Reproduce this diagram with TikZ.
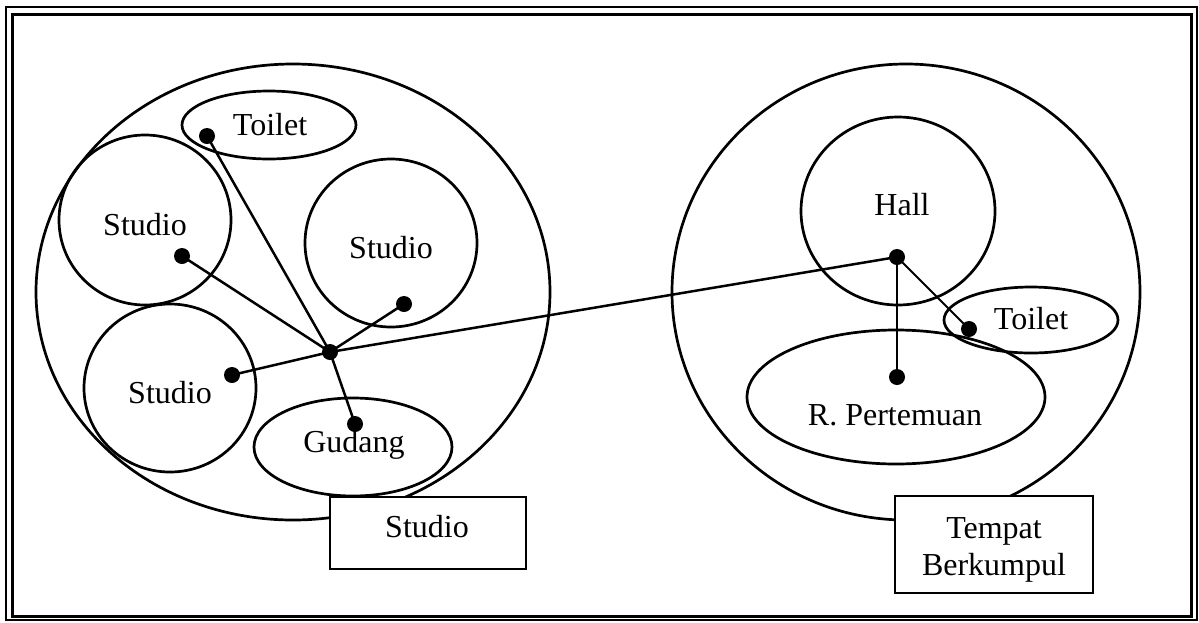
\documentclass[tikz,border=0pt]{standalone}
\usepackage{fontspec}
\setmainfont{Liberation Serif}
\usetikzlibrary{shapes.geometric}
\begin{document}
\begin{tikzpicture}[x=1pt,y=-1pt,
  room/.style={draw, ellipse, line width=2.7pt, inner sep=0pt, outer sep=0pt},
  lbl/.style={anchor=base, inner sep=0pt, font=\fontsize{32}{39}\selectfont},
  dot/.style={circle, fill=black, inner sep=0pt, minimum size=16pt},
  tag/.style={draw, fill=white, line width=2.2pt, inner sep=0pt},
  link/.style={line width=2.5pt}]
\useasboundingbox (0,0) rectangle (1199,622);
\fill[white] (0,0) rectangle (1199,622);
% frame
\draw[line width=2pt] (6,7) rectangle (1197,620);
\draw[line width=3pt] (12,14) rectangle (1191,616);
% left zone
\node[room, minimum width=514pt, minimum height=456pt] (zoneL) at (293,292) {};
\node[room, minimum width=174pt, minimum height=68pt] (toiletL) at (269,125) {};
\node[room, minimum width=172pt, minimum height=170pt] (studioA) at (145,220) {};
\node[room, minimum width=172pt, minimum height=168pt] (studioB) at (391,243) {};
\node[room, minimum width=172pt, minimum height=168pt] (studioC) at (170,388) {};
\node[room, minimum width=198pt, minimum height=98pt] (gudang) at (353,447) {};
\node[lbl] (tToiletL) at (270,135) {Toilet};
\node[lbl] (tStudioA) at (145,235) {Studio};
\node[lbl] (tStudioB) at (391,258) {Studio};
\node[lbl] (tStudioC) at (170,403) {Studio};
\node[lbl] (tGudang) at (354,452) {Gudang};
% right zone
\node[room, minimum width=468pt, minimum height=456pt] (zoneR) at (906,292) {};
\node[room, minimum width=194pt, minimum height=188pt] (hall) at (898,211) {};
\node[room, minimum width=174pt, minimum height=66pt] (toiletR) at (1031,320) {};
\node[room, minimum width=298pt, minimum height=134pt] (rapat) at (896,397) {};
\node[lbl] (tHall) at (902,215) {Hall};
\node[lbl] (tToiletR) at (1031,329) {Toilet};
\node[lbl] (tRapat) at (895,425) {R. Pertemuan};
% dots
\node[dot] (dToiletL) at (207,136) {};
\node[dot] (dStudioA) at (182,256) {};
\node[dot] (dStudioB) at (404,304) {};
\node[dot] (hub) at (330,352) {};
\node[dot] (dStudioC) at (232,375) {};
\node[dot] (dGudang) at (355,424) {};
\node[dot] (dHall) at (897,257) {};
\node[dot] (dToiletR) at (969,329) {};
\node[dot] (dRapat) at (897,377) {};
% connectors
\draw[link] (hub.center) -- (dToiletL.center);
\draw[link] (hub.center) -- (dStudioA.center);
\draw[link] (hub.center) -- (dStudioB.center);
\draw[link] (hub.center) -- (dStudioC.center);
\draw[link] (hub.center) -- (dGudang.center);
\draw[link] (hub.center) -- (dHall.center);
\draw[link] (dHall.center) -- (dRapat.center);
\draw[line width=1.8pt] (dHall.center) -- (dToiletR.center);
% tags
\node[tag, minimum width=196pt, minimum height=72pt] (tagL) at (428,533) {};
\node[lbl] (tTagL) at (427,537) {Studio};
\node[tag, minimum width=198pt, minimum height=97pt] (tagR) at (994,544.5) {};
\node[lbl] (tTagR1) at (994,538) {Tempat};
\node[lbl] (tTagR2) at (994,575) {Berkumpul};
\end{tikzpicture}
\end{document}
